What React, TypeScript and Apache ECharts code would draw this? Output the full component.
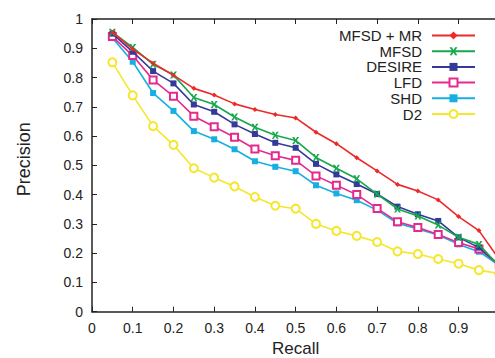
import React, { useEffect, useRef } from "react";
import * as echarts from "echarts";

const recall = [0.05, 0.1, 0.15, 0.2, 0.25, 0.3, 0.35, 0.4, 0.45, 0.5, 0.55, 0.6, 0.65, 0.7, 0.75, 0.8, 0.85, 0.9, 0.95, 1.0];

const mfsdMr = [0.955, 0.897, 0.849, 0.808, 0.763, 0.740, 0.710, 0.691, 0.674, 0.662, 0.613, 0.574, 0.526, 0.481, 0.435, 0.412, 0.382, 0.325, 0.277, 0.178];
const mfsd = [0.955, 0.903, 0.845, 0.809, 0.732, 0.708, 0.665, 0.630, 0.603, 0.585, 0.527, 0.490, 0.454, 0.402, 0.351, 0.327, 0.296, 0.254, 0.230, 0.155];
const desire = [0.95, 0.888, 0.822, 0.780, 0.708, 0.683, 0.640, 0.607, 0.577, 0.560, 0.505, 0.469, 0.436, 0.402, 0.359, 0.333, 0.310, 0.254, 0.219, 0.16];
const lfd = [0.94, 0.875, 0.792, 0.736, 0.668, 0.632, 0.596, 0.556, 0.533, 0.517, 0.464, 0.432, 0.400, 0.353, 0.307, 0.288, 0.264, 0.236, 0.214, 0.16];
const shd = [0.935, 0.854, 0.747, 0.686, 0.617, 0.589, 0.555, 0.514, 0.495, 0.480, 0.432, 0.404, 0.381, 0.347, 0.302, 0.283, 0.262, 0.230, 0.205, 0.158];
const d2 = [0.852, 0.739, 0.634, 0.570, 0.490, 0.458, 0.428, 0.392, 0.362, 0.352, 0.300, 0.276, 0.259, 0.238, 0.206, 0.197, 0.180, 0.164, 0.142, 0.13];

const seriesNames = ["MFSD + MR", "MFSD", "DESIRE", "LFD", "SHD", "D2"];
const seriesColors = ["#ec2a2a", "#16a84c", "#35399a", "#e42a8e", "#17afe2", "#f5e62e"];

const X_PATH = "path://M0,0 L3,0 L5,3.5 L7,0 L10,0 L6.5,5 L10,10 L7,10 L5,6.5 L3,10 L0,10 L3.5,5 Z";

export default function App() {
  const ref = useRef<HTMLDivElement>(null);
  useEffect(() => {
    if (!ref.current) return;
    const chart = echarts.init(ref.current, null, { renderer: "svg" });
    const values = [mfsdMr, mfsd, desire, lfd, shd, d2];
    const symbols: any[] = ["diamond", X_PATH, "rect", "emptyRect", "rect", "emptyCircle"];
    const symbolSizes = [5, 7, 6, 7, 6, 8];
    const font = "Liberation Sans, Arial, Helvetica, sans-serif";
    const axisLine = { show: true, lineStyle: { color: "#222", width: 1.5 } };
    const series = values.map((vals, i) => ({
      name: seriesNames[i],
      type: "line",
      data: recall.map((r, j) => [r, vals[j]]),
      symbol: symbols[i],
      symbolSize: symbolSizes[i],
      showSymbol: true,
      color: seriesColors[i],
      lineStyle: { width: 1.6, color: seriesColors[i] },
      itemStyle: { color: seriesColors[i], borderColor: seriesColors[i], borderWidth: i === 3 || i === 5 ? 1.5 : 0 },
      emphasis: { disabled: true },
      z: 10 - i,
    }));
    chart.setOption({
      animation: false,
      textStyle: { fontFamily: font },
      grid: { left: 92, top: 19, width: 407.3, height: 292.7, outerBoundsMode: "none", containLabel: false },
      legend: {
        orient: "vertical",
        right: 14,
        top: 23,
        align: "right",
        itemWidth: 43,
        itemHeight: 10,
        itemGap: 0.7,
        selectedMode: false,
        textStyle: { fontFamily: font, fontSize: 15, color: "#222", lineHeight: 15, padding: [0, 5, 0, 0] },
        data: seriesNames,
      },
      xAxis: [
        {
          type: "value",
          min: 0,
          max: 1,
          interval: 0.1,
          name: "Recall",
          nameLocation: "middle",
          nameGap: 27,
          nameTextStyle: { fontFamily: font, fontSize: 17, color: "#222" },
          axisLine,
          axisTick: { show: true, inside: true, length: 5, lineStyle: { color: "#222", width: 1 } },
          axisLabel: {
            fontFamily: font,
            fontSize: 14,
            color: "#222",
            margin: 9,
            formatter: (v: number) => (v >= 0.999 ? "" : String(+v.toFixed(1))),
          },
          splitLine: { show: false },
        },
        {
          type: "value",
          position: "top",
          min: 0,
          max: 1,
          interval: 0.1,
          axisLine,
          axisTick: { show: true, inside: true, length: 5, lineStyle: { color: "#222", width: 1 } },
          axisLabel: { show: false },
          splitLine: { show: false },
        },
      ],
      yAxis: {
        type: "value",
        min: 0,
        max: 1,
        interval: 0.1,
        name: "Precision",
        nameLocation: "middle",
        nameGap: 59,
        nameTextStyle: { fontFamily: font, fontSize: 18, color: "#222", padding: [0, 0, 0, 12] },
        axisLine,
        axisTick: { show: true, inside: true, length: 5, lineStyle: { color: "#222", width: 1 } },
        axisLabel: {
          fontFamily: font,
          fontSize: 14,
          color: "#222",
          margin: 9,
          formatter: (v: number) => String(+v.toFixed(1)),
        },
        splitLine: { show: false },
      },
      series,
    });
    return () => chart.dispose();
  }, []);
  return <div ref={ref} style={{ width: 495, height: 358, position: "absolute", left: 0, top: 0, background: "#fff" }} />;
}
